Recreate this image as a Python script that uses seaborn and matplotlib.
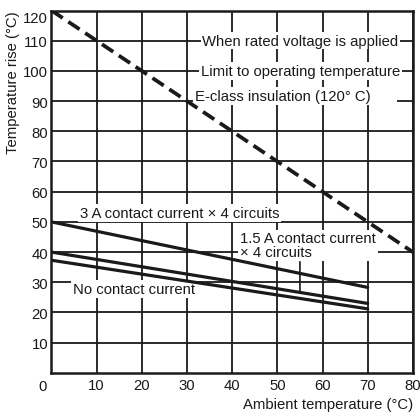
import matplotlib
matplotlib.use("Agg")
import matplotlib.pyplot as plt
import seaborn as sns
import pandas as pd

# ---- data ----
x_current = [0, 70]
y_3a = [50, 28.3]
y_15a = [40, 23.0]
y_none = [37.3, 21.2]
x_limit = [0, 80]
y_limit = [120, 40]

x_ticks = [10, 20, 30, 40, 50, 60, 70, 80]
y_ticks = [10, 20, 30, 40, 50, 60, 70, 80, 90, 100, 110, 120]

sns.set_theme(style="white")
plt.rcParams['font.family'] = ['Liberation Sans', 'DejaVu Sans']

df = pd.concat([
    pd.DataFrame({"x": x_current, "y": y_3a, "series": "3A", "kind": "solid"}),
    pd.DataFrame({"x": x_current, "y": y_15a, "series": "1.5A", "kind": "solid"}),
    pd.DataFrame({"x": x_current, "y": y_none, "series": "none", "kind": "solid"}),
    pd.DataFrame({"x": x_limit, "y": y_limit, "series": "limit", "kind": "dashed"}),
], ignore_index=True)

fig = plt.figure(figsize=(4.20, 4.14), dpi=100)
ax = fig.add_axes([0.1226, 0.0969, 0.983 - 0.1226, 0.9722 - 0.0969])

ax.set_xlim(0, 80)
ax.set_ylim(0, 120)
ax.set_xticks(x_ticks)
ax.set_yticks(y_ticks)
ax.grid(True, color="#1a1a1a", linewidth=1.3, zorder=0)
ax.set_axisbelow(True)

sns.lineplot(data=df[df.kind == "solid"], x="x", y="y", hue="series",
             palette=["#1a1a1a"] * 3, linewidth=2.3, legend=False, ax=ax,
             zorder=5, estimator=None)
sns.lineplot(data=df[df.kind == "dashed"], x="x", y="y",
             color="#1a1a1a", linewidth=2.7, legend=False, ax=ax,
             zorder=5, estimator=None, dashes=False)
ax.lines[-1].set_dashes([3.6, 1.8])

for s in ax.spines.values():
    s.set_linewidth(1.8)
    s.set_color("#1a1a1a")
    s.set_zorder(6)

fs = 10.7
ax.tick_params(axis="y", length=0, labelsize=fs, colors="#1a1a1a", pad=2.5)
ax.tick_params(axis="x", length=0, labelsize=fs, colors="#1a1a1a", pad=4)
ax.set_xlabel("Ambient temperature (°C)", loc="right", fontsize=fs,
              color="#1a1a1a", labelpad=3)
ax.set_ylabel("Temperature rise (°C)", loc="top", fontsize=fs,
              color="#1a1a1a", labelpad=2)
for lbl in ax.get_yticklabels():
    if lbl.get_text() == "120":
        lbl.set_va("top")
        lbl.set_y(122)

ax.annotate("0", xy=(0, 0), xytext=(-6.3, -9.3), textcoords="offset points",
            ha="center", va="center", fontsize=fs, color="#1a1a1a",
            annotation_clip=False)

box = dict(boxstyle="square,pad=0.12", facecolor="white", edgecolor="none")
ax.text(33.4, 110, "When rated voltage is applied", ha="left", va="center",
        fontsize=fs, bbox=box, zorder=3, color="#1a1a1a")
ax.text(33.1, 100, "Limit to operating temperature", ha="left", va="center",
        fontsize=fs, bbox=box, zorder=3, color="#1a1a1a")
ax.text(31.8, 91.7, "E-class insulation (120° C)      ", ha="left", va="center",
        fontsize=fs, bbox=box, zorder=3, color="#1a1a1a")
ax.text(6.3, 52.9, "3 A contact current × 4 circuits", ha="left", va="center",
        fontsize=fs, bbox=box, zorder=3, color="#1a1a1a")
ax.text(41.7, 42.2, "1.5 A contact current\n× 4 circuits", ha="left", va="center",
        fontsize=fs, bbox=box, zorder=3, color="#1a1a1a", linespacing=1.0)
ax.text(4.8, 27.8, "No contact current", ha="left", va="center",
        fontsize=fs, bbox=box, zorder=3, color="#1a1a1a")
ax.annotate("", xy=(55, 26.9), xytext=(55, 36.8),
            arrowprops=dict(arrowstyle="-", lw=1.2, color="#1a1a1a",
                            shrinkA=0, shrinkB=0), zorder=4)

fig.savefig("out.png", dpi=100)
